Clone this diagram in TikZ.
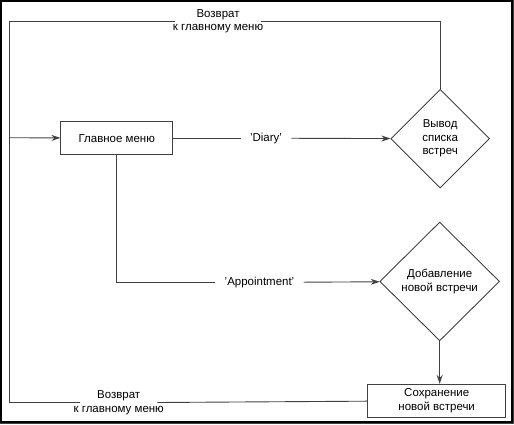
\documentclass[tikz,border=0pt]{standalone}
\usepackage{fontspec}
\setmainfont{Liberation Sans}
\usetikzlibrary{arrows.meta}
\usetikzlibrary{shapes.geometric}
\usetikzlibrary{positioning}

\tikzset{
    box/.style={draw, minimum width=112pt, minimum height=33pt, inner sep=0pt, align=center},
    cond/.style={draw, diamond, inner sep=0pt, align=center},
    elbl/.style={inner xsep=9pt, inner ysep=0pt},
    rlbl/.style={align=center, inner xsep=-3pt, inner ysep=1pt},
}

\begin{document}
\begin{tikzpicture}[x=1pt, y=-1pt, >={Stealth[length=9pt, width=6pt, inset=3pt]},
    every path/.style={draw=black!75, line width=0.9pt},
    every node/.style={font=\fontsize{11.5}{13.5}\selectfont}]
    \useasboundingbox (0,0) rectangle (514,424);
    \draw[black, line width=2pt] (1,1) rectangle (512.5,422.5);

    \node[box] (menu) at (116.5,138) {Главное меню};
    \node[cond, minimum width=99pt, minimum height=99pt] (list) at (440.5,138.5) {Вывод\\списка\\встреч};
    \node[cond, minimum width=120pt, minimum height=119pt] (add) at (440,281.5) {Добавление\\новой встречи};
    \node[box, minimum width=138pt] (save) at (437,401) {Сохранение\\новой встречи};

    \node[elbl] (diary) at (266,138) {'Diary'};
    \node[elbl] (appt) at (259.5,282.5) {'Appointment'};
    \node[rlbl] (back1) at (218,21) {Возврат\\к главному меню};
    \node[rlbl, inner xsep=-7pt] (back2) at (118.5,403) {Возврат\\к главному меню};

    \coordinate (entry) at (9,137.5);
    \coordinate (corner) at (9,403);

    \draw (menu) -- (diary);
    \draw[->] (diary) -- (list);
    \draw (menu) |- (appt);
    \draw[->] (appt) -- (add);
    \draw[->] (add.south) -- (add.south |- save.north);
    \draw (save) -- (back2);
    \draw (back2) -- (corner);
    \draw (list.north) |- (back1);
    \draw (back1) -| (corner);
    \draw[->] (entry) -- (menu);
\end{tikzpicture}
\end{document}
